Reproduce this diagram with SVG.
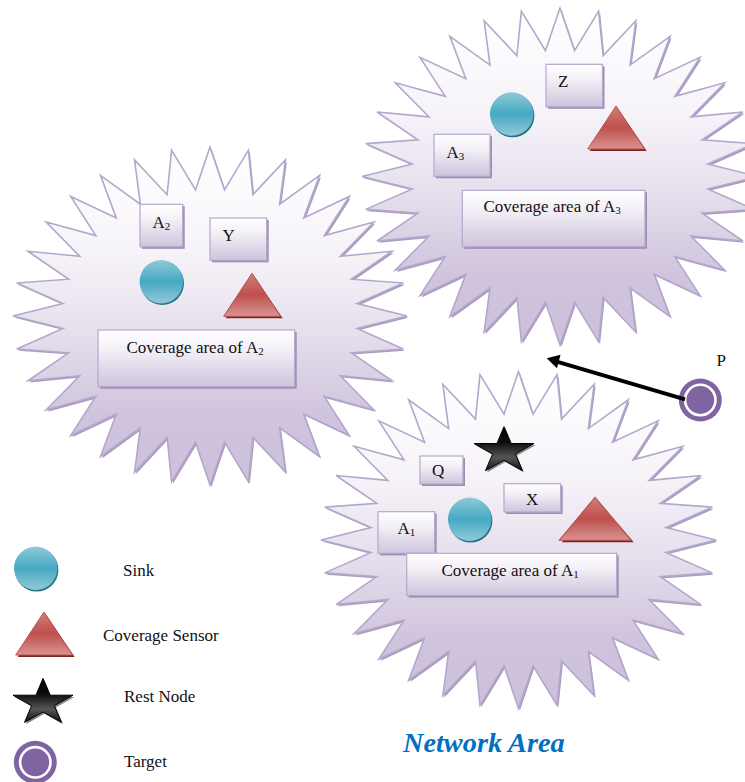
<svg xmlns="http://www.w3.org/2000/svg" width="745" height="782" viewBox="0 0 745 782">
<style>
text{font-family:"Liberation Serif","Times New Roman",serif;font-size:17px;fill:#111}
.sub{font-size:11px}
.burst{fill:url(#gBurst);stroke:#b4a7cd;stroke-width:1.6}
.burstS{fill:#a99bbd;stroke:none}
.box{fill:url(#gBox);stroke:#b4a7cd;stroke-width:1.2}
.boxS{fill:#9d8db2}
.title{font-size:28.300px;font-weight:bold;font-style:italic;fill:#0070c0}
#burst{vector-effect:non-scaling-stroke}
</style>
<defs>
<linearGradient id="gBurst" x1="0" y1="0" x2="0" y2="1"><stop offset="0" stop-color="#ffffff"/><stop offset=".3" stop-color="#f7f4f9"/><stop offset=".55" stop-color="#e6dfec"/><stop offset=".8" stop-color="#cfc3dd"/><stop offset="1" stop-color="#cdc0db"/></linearGradient>
<linearGradient id="gBox" x1="0" y1="0" x2="0" y2="1"><stop offset="0" stop-color="#ffffff"/><stop offset=".35" stop-color="#f3f0f6"/><stop offset="1" stop-color="#cfc4dd"/></linearGradient>
<linearGradient id="gSink" x1="0" y1="0" x2="0" y2="1"><stop offset="0" stop-color="#8fc9d9"/><stop offset=".5" stop-color="#45a9c3"/><stop offset="1" stop-color="#93c9d8"/></linearGradient>
<linearGradient id="gTri" x1="0" y1="0" x2="0" y2="1"><stop offset="0" stop-color="#cf7f7c"/><stop offset=".5" stop-color="#bf504d"/><stop offset="1" stop-color="#d99391"/></linearGradient>
<linearGradient id="gStar" x1="0" y1="0" x2="0" y2="1"><stop offset="0" stop-color="#000"/><stop offset=".35" stop-color="#0c0c0c"/><stop offset=".7" stop-color="#555"/><stop offset="1" stop-color="#111"/></linearGradient>
<polygon id="burst" points="0,-1000 73.5,-746.4 195,-981 217.7,-717.7 383,-924 353.6,-661.4 556,-832 475.8,-579.8 707,-707 579.8,-475.8 832,-556 661.4,-353.6 924,-383 717.7,-217.7 981,-195 746.4,-73.5 1000,0 746.4,73.5 981,195 717.7,217.7 924,383 661.4,353.6 832,556 579.8,475.8 707,707 475.8,579.8 556,832 353.6,661.4 383,924 217.7,717.7 195,981 73.5,746.4 0,1000 -73.5,746.4 -195,981 -217.7,717.7 -383,924 -353.6,661.4 -556,832 -475.8,579.8 -707,707 -579.8,475.8 -832,556 -661.4,353.6 -924,383 -717.7,217.7 -981,195 -746.4,73.5 -1000,0 -746.4,-73.5 -981,-195 -717.7,-217.7 -924,-383 -661.4,-353.6 -832,-556 -579.8,-475.8 -707,-707 -475.8,-579.8 -556,-832 -353.6,-661.4 -383,-924 -217.7,-717.7 -195,-981 -73.5,-746.4"/>
<g id="sink"><circle cx="1" cy="1.6" r="21.7" fill="#26758b"/><circle r="21.7" fill="url(#gSink)"/></g>
<g id="tri"><polygon points="-26.3,2 1.7,-40.7 30.7,2" fill="#7a2624"/><polygon points="-28.3,0 0,-43 28.7,0" fill="url(#gTri)" stroke="#b9504d" stroke-width="1"/></g>
<g id="blackstar"><polygon points="0,-24.3 7.07,-7.5 30,-7.5 11.4,2.9 18.5,19.7 0,9.3 -18.5,19.7 -11.4,2.9 -30,-7.5 -7.07,-7.5" fill="#8a8a8a" transform="translate(1.5,1.8)"/><polygon points="0,-24.3 7.07,-7.5 30,-7.5 11.4,2.9 18.5,19.7 0,9.3 -18.5,19.7 -11.4,2.9 -30,-7.5 -7.07,-7.5" fill="url(#gStar)" stroke="#000" stroke-width="1"/></g>
<g id="target"><circle r="21.5" fill="#8064a2"/><circle r="15.2" fill="#8064a2" stroke="#fff" stroke-width="2.6"/></g>
</defs>

<g id="area-a2">
<use href="#burst" class="burstS" transform="translate(211.5,317.8) scale(.197,.169)"/>
<use href="#burst" class="burst" transform="translate(210,316) scale(.197,.169)"/>
<rect class="boxS" x="142" y="206.3" width="42.7" height="42.5"/><rect class="box" x="140" y="204.3" width="42.7" height="42.5"/>
<text x="152.5" y="228">A<tspan class="sub" dy="2">2</tspan></text>
<rect class="boxS" x="212" y="220" width="56.7" height="42.3"/><rect class="box" x="210" y="218" width="56.7" height="42.3"/>
<text x="222.5" y="241">Y</text>
<use href="#sink" x="161.3" y="281.7"/>
<use href="#tri" x="252" y="316.3"/>
<rect class="boxS" x="100" y="332" width="196.7" height="56.7"/><rect class="box" x="98" y="330" width="196.7" height="56.7"/>
<text x="126.5" y="353">Coverage area of A<tspan class="sub" dy="2">2</tspan></text>
</g>

<g id="area-a3">
<use href="#burst" class="burstS" transform="translate(561.5,178.3) scale(.198,.1685)"/>
<use href="#burst" class="burst" transform="translate(560,176.5) scale(.198,.1685)"/>
<rect class="boxS" x="436" y="136.3" width="56" height="42"/><rect class="box" x="434" y="134.3" width="56" height="42"/>
<text x="446.5" y="158">A<tspan class="sub" dy="2">3</tspan></text>
<rect class="boxS" x="548" y="66.3" width="56.5" height="42.5"/><rect class="box" x="546" y="64.3" width="56.5" height="42.5"/>
<text x="558" y="87">Z</text>
<use href="#sink" x="511.7" y="114"/>
<use href="#tri" x="616" y="149"/>
<rect class="boxS" x="464.3" y="192.300" width="182.700" height="56.500"/><rect class="box" x="462.3" y="190.3" width="182.700" height="56.500"/>
<text x="483.5" y="212">Coverage area of A<tspan class="sub" dy="2">3</tspan></text>
</g>

<g id="area-a1">
<use href="#burst" class="burstS" transform="translate(520,541.8) scale(.1975,.1685)"/>
<use href="#burst" class="burst" transform="translate(518.5,540) scale(.1975,.1685)"/>
<rect class="boxS" x="422" y="458" width="43" height="28"/><rect class="box" x="420" y="456" width="43" height="28"/>
<text x="432" y="476">Q</text>
<rect class="boxS" x="506" y="485.7" width="56.7" height="28.3"/><rect class="box" x="504" y="483.7" width="56.7" height="28.3"/>
<text x="526" y="505">X</text>
<rect class="boxS" x="380" y="513.7" width="56.7" height="41.7"/><rect class="box" x="378" y="511.7" width="56.7" height="41.7"/>
<text x="397.5" y="534">A<tspan class="sub" dy="2">1</tspan></text>
<use href="#sink" x="469.7" y="519.3"/>
<use href="#tri" transform="translate(595,540.3) scale(1.26,1)"/>
<rect class="boxS" x="408.7" y="555.3" width="210" height="42.3"/><rect class="box" x="406.7" y="553.3" width="210" height="42.3"/>
<text x="441.5" y="576">Coverage area of A<tspan class="sub" dy="2">1</tspan></text>
<use href="#blackstar" x="504" y="451"/>
</g>

<g id="target-p">
<use href="#target" x="700.3" y="400"/>
<text x="716.5" y="366">P</text>
</g>

<g id="connectors">
<line x1="685" y1="399.3" x2="555" y2="361.2" stroke="#000" stroke-width="4"/>
<polygon points="546.7,358.3 560.5,354.8 557,368.3" fill="#000"/>
</g>

<g id="legend-sink"><use href="#sink" x="35.7" y="568.3"/><text x="123" y="576">Sink</text></g>
<g id="legend-sensor"><use href="#tri" x="44" y="655"/><text x="103" y="641">Coverage Sensor</text></g>
<g id="legend-rest"><use href="#blackstar" x="43" y="702.7"/><text x="124" y="702">Rest Node</text></g>
<g id="legend-target"><use href="#target" x="35.3" y="762.3"/><text x="124" y="767">Target</text></g>
<text id="network-area" class="title" x="403" y="752">Network Area</text>
</svg>
